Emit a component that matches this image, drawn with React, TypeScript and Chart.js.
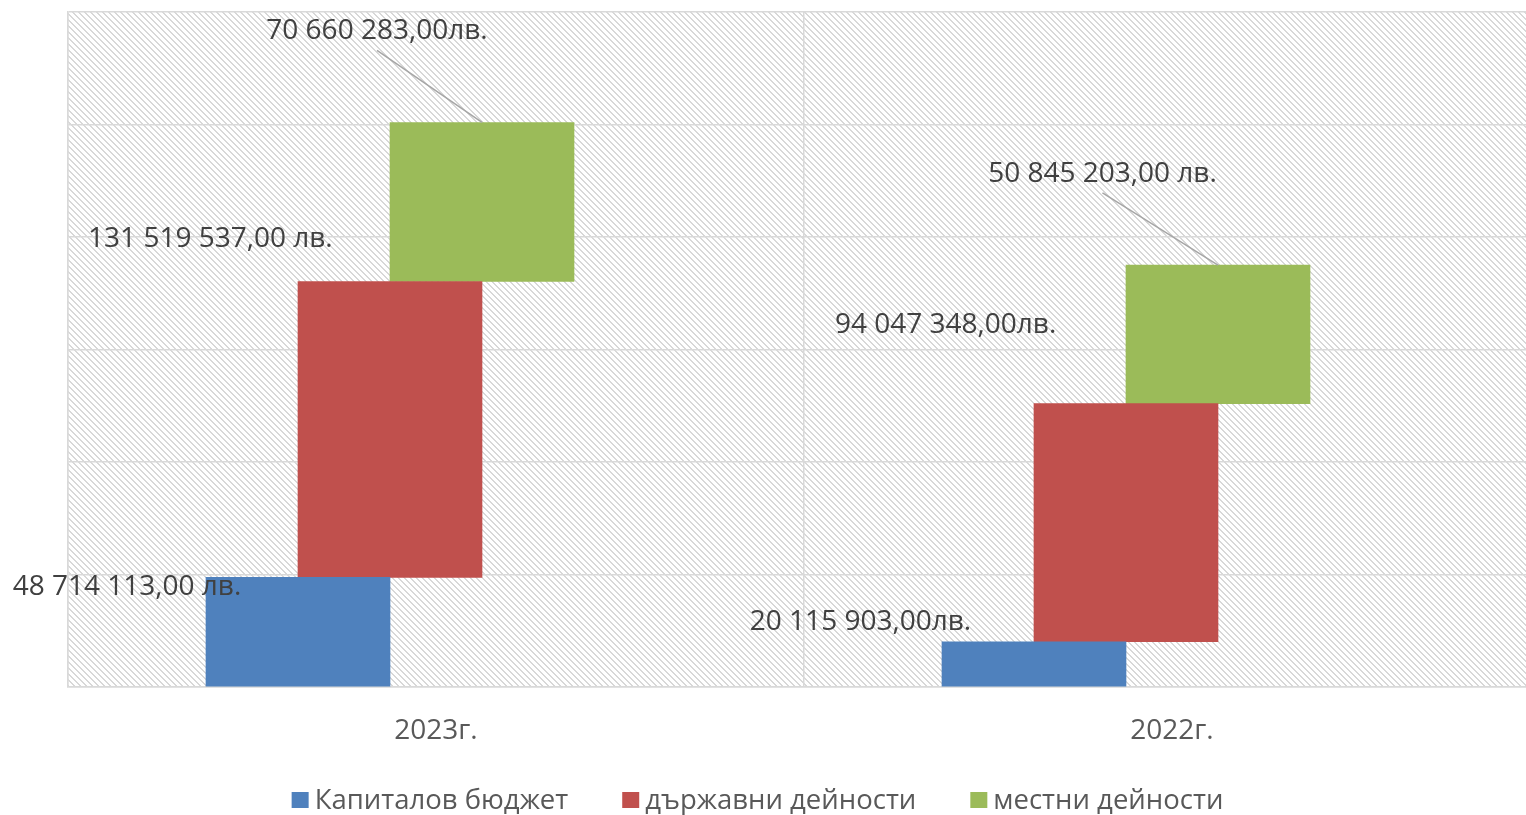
import React, { useEffect, useRef } from 'react';
import { Chart, registerables } from 'chart.js';

Chart.register(...registerables);

// ---- data ----
const categories = ['2023г.', '2022г.'];
const seriesNames = ['Капиталов бюджет', 'държавни дейности', 'местни дейности'];
const seriesColors = ['#4F81BD', '#C0504D', '#9BBB59'];
// bar heights as drawn (million лв.)
const capitalBudget = [48.714113, 20.115903];
const stateActivities = [131.519537, 105.8];
const localActivities = [70.660283, 61.6];
// data label texts
const capitalLabels = ['48 714 113,00 лв.', '20 115 903,00лв.'];
const stateLabels = ['131 519 537,00 лв.', '94 047 348,00лв.'];
const localLabels = ['70 660 283,00лв.', '50 845 203,00 лв.'];
const yMax = 300;
const yStep = 50;

// ---- layout / style ----
const FONT = '"Open Sans", "Noto Sans", sans-serif';
const GRID = '#d9d9d9';
const xVisibleMax = 1.981; // plot area is cut at the right edge
const seriesOffsets = [-0.1875, -0.0625, 0.0625]; // overlapping clusters
// label offsets relative to bar (center x, top y): [dx, baseline dy]
const labelOffsets = [
  [[-171, 18], [-173.5, -11.3]],
  [[-179.6, -34], [-180.4, -71]],
  [[-105, -83], [-115.5, -83.3]],
];
const leaderSeries = 2;

const seriesValues = [capitalBudget, stateActivities, localActivities];
const seriesLabels = [capitalLabels, stateLabels, localLabels];

function makePattern(): CanvasPattern | string {
  const c = document.createElement('canvas');
  const n = 6;
  c.width = n;
  c.height = n;
  const g = c.getContext('2d');
  if (!g) return '#f2f2f2';
  g.fillStyle = '#ffffff';
  g.fillRect(0, 0, n, n);
  g.fillStyle = '#d8d8d8';
  for (let i = 0; i < n; i++) {
    g.fillRect(i, i, 1, 1);
    g.fillRect((i + 1) % n, i, 1, 1);
  }
  const ctx = document.createElement('canvas').getContext('2d');
  const p = ctx ? ctx.createPattern(c, 'repeat') : null;
  return p || '#f2f2f2';
}

export default function App() {
  const ref = useRef<HTMLCanvasElement | null>(null);

  useEffect(() => {
    if (!ref.current) return;
    const pattern = makePattern();

    const datasets = seriesValues.map((vals, s) => ({
      label: seriesNames[s],
      backgroundColor: seriesColors[s],
      borderWidth: 0,
      grouped: false,
      barThickness: 184,
      data: vals.map((v, i) => {
        let lo = 0;
        for (let k = 0; k < s; k++) lo += seriesValues[k][i];
        return { x: i + 0.5 + seriesOffsets[s], y: [lo, lo + v] };
      }),
    }));

    const bgPlugin = {
      id: 'hatchBg',
      beforeDraw(chart: any) {
        const { ctx, chartArea } = chart;
        ctx.save();
        ctx.fillStyle = pattern;
        ctx.fillRect(chartArea.left, chartArea.top, chartArea.right - chartArea.left, chartArea.bottom - chartArea.top);
        ctx.restore();
      },
    };

    const labelPlugin = {
      id: 'valueLabels',
      afterDatasetsDraw(chart: any) {
        const { ctx } = chart;
        ctx.save();
        chart.data.datasets.forEach((_: any, s: number) => {
          const meta = chart.getDatasetMeta(s);
          meta.data.forEach((el: any, i: number) => {
            const top = Math.min(el.y, el.base);
            const [dx, dy] = labelOffsets[s][i];
            const lx = el.x + dx;
            const ly = top + dy;
            if (s === leaderSeries) {
              ctx.strokeStyle = '#a6a6a6';
              ctx.lineWidth = 1.5;
              ctx.beginPath();
              ctx.moveTo(lx, ly + 11);
              ctx.lineTo(el.x, top);
              ctx.stroke();
            }
            ctx.font = `28px ${FONT}`;
            ctx.fillStyle = '#404040';
            ctx.textAlign = 'center';
            ctx.textBaseline = 'alphabetic';
            ctx.fillText(seriesLabels[s][i], lx, ly);
          });
        });
        ctx.restore();
      },
    };

    const legendPlugin = {
      id: 'customLegend',
      afterDraw(chart: any) {
        const { ctx } = chart;
        ctx.save();
        ctx.font = `27.5px ${FONT}`;
        const box = 16;
        const gapText = 7;
        const gapItem = 54;
        const widths = seriesNames.map((t) => ctx.measureText(t).width);
        const total = widths.reduce((a, w) => a + box + gapText + w, 0) + gapItem * (seriesNames.length - 1);
        let x = 757.5 - total / 2;
        const baseline = 809;
        seriesNames.forEach((t, s) => {
          ctx.fillStyle = seriesColors[s];
          ctx.fillRect(x, baseline - box - 1, box + 1, box);
          x += box + gapText;
          ctx.fillStyle = '#595959';
          ctx.textAlign = 'left';
          ctx.textBaseline = 'alphabetic';
          ctx.fillText(t, x, baseline);
          x += widths[s] + gapItem;
        });
        ctx.restore();
      },
    };

    const chart = new Chart(ref.current, {
      type: 'bar',
      data: { datasets: datasets as any },
      options: {
        animation: false,
        responsive: true,
        maintainAspectRatio: false,
        devicePixelRatio: 1,
        layout: { padding: { left: 68, top: 12, right: 0, bottom: 0 } },
        plugins: { legend: { display: false }, tooltip: { enabled: false } },
        events: [],
        scales: {
          x: {
            type: 'linear',
            offset: false,
            min: 0,
            max: xVisibleMax,
            afterBuildTicks: (scale: any) => {
              scale.ticks = [0, 0.5, 1, 1.5].map((v) => ({ value: v }));
            },
            afterFit: (scale: any) => {
              scale.height = 128;
            },
            grid: {
              offset: false,
              color: (c: any) => (c.tick && Math.abs(c.tick.value % 1) < 1e-6 ? GRID : 'rgba(0,0,0,0)'),
              lineWidth: 1.5,
              drawTicks: false,
            },
            border: { display: true, color: GRID, width: 1.5 },
            ticks: {
              autoSkip: false,
              maxRotation: 0,
              minRotation: 0,
              padding: 27,
              color: '#595959',
              font: { family: FONT, size: 28 },
              callback: (v: any) => {
                const n = Number(v);
                return Math.abs((n % 1) - 0.5) < 1e-6 ? categories[Math.floor(n)] : '';
              },
            },
          },
          y: {
            min: 0,
            max: yMax,
            ticks: { display: false, stepSize: yStep },
            grid: { color: GRID, lineWidth: 1.5, drawTicks: false },
            border: { display: true, color: GRID, width: 1.5 },
          },
        },
      },
      plugins: [bgPlugin, labelPlugin, legendPlugin],
    } as any);

    return () => chart.destroy();
  }, []);

  return (
    <div style={{ position: 'absolute', left: 0, top: 0, width: 1526, height: 815, background: '#fff' }}>
      <canvas ref={ref} />
    </div>
  );
}
